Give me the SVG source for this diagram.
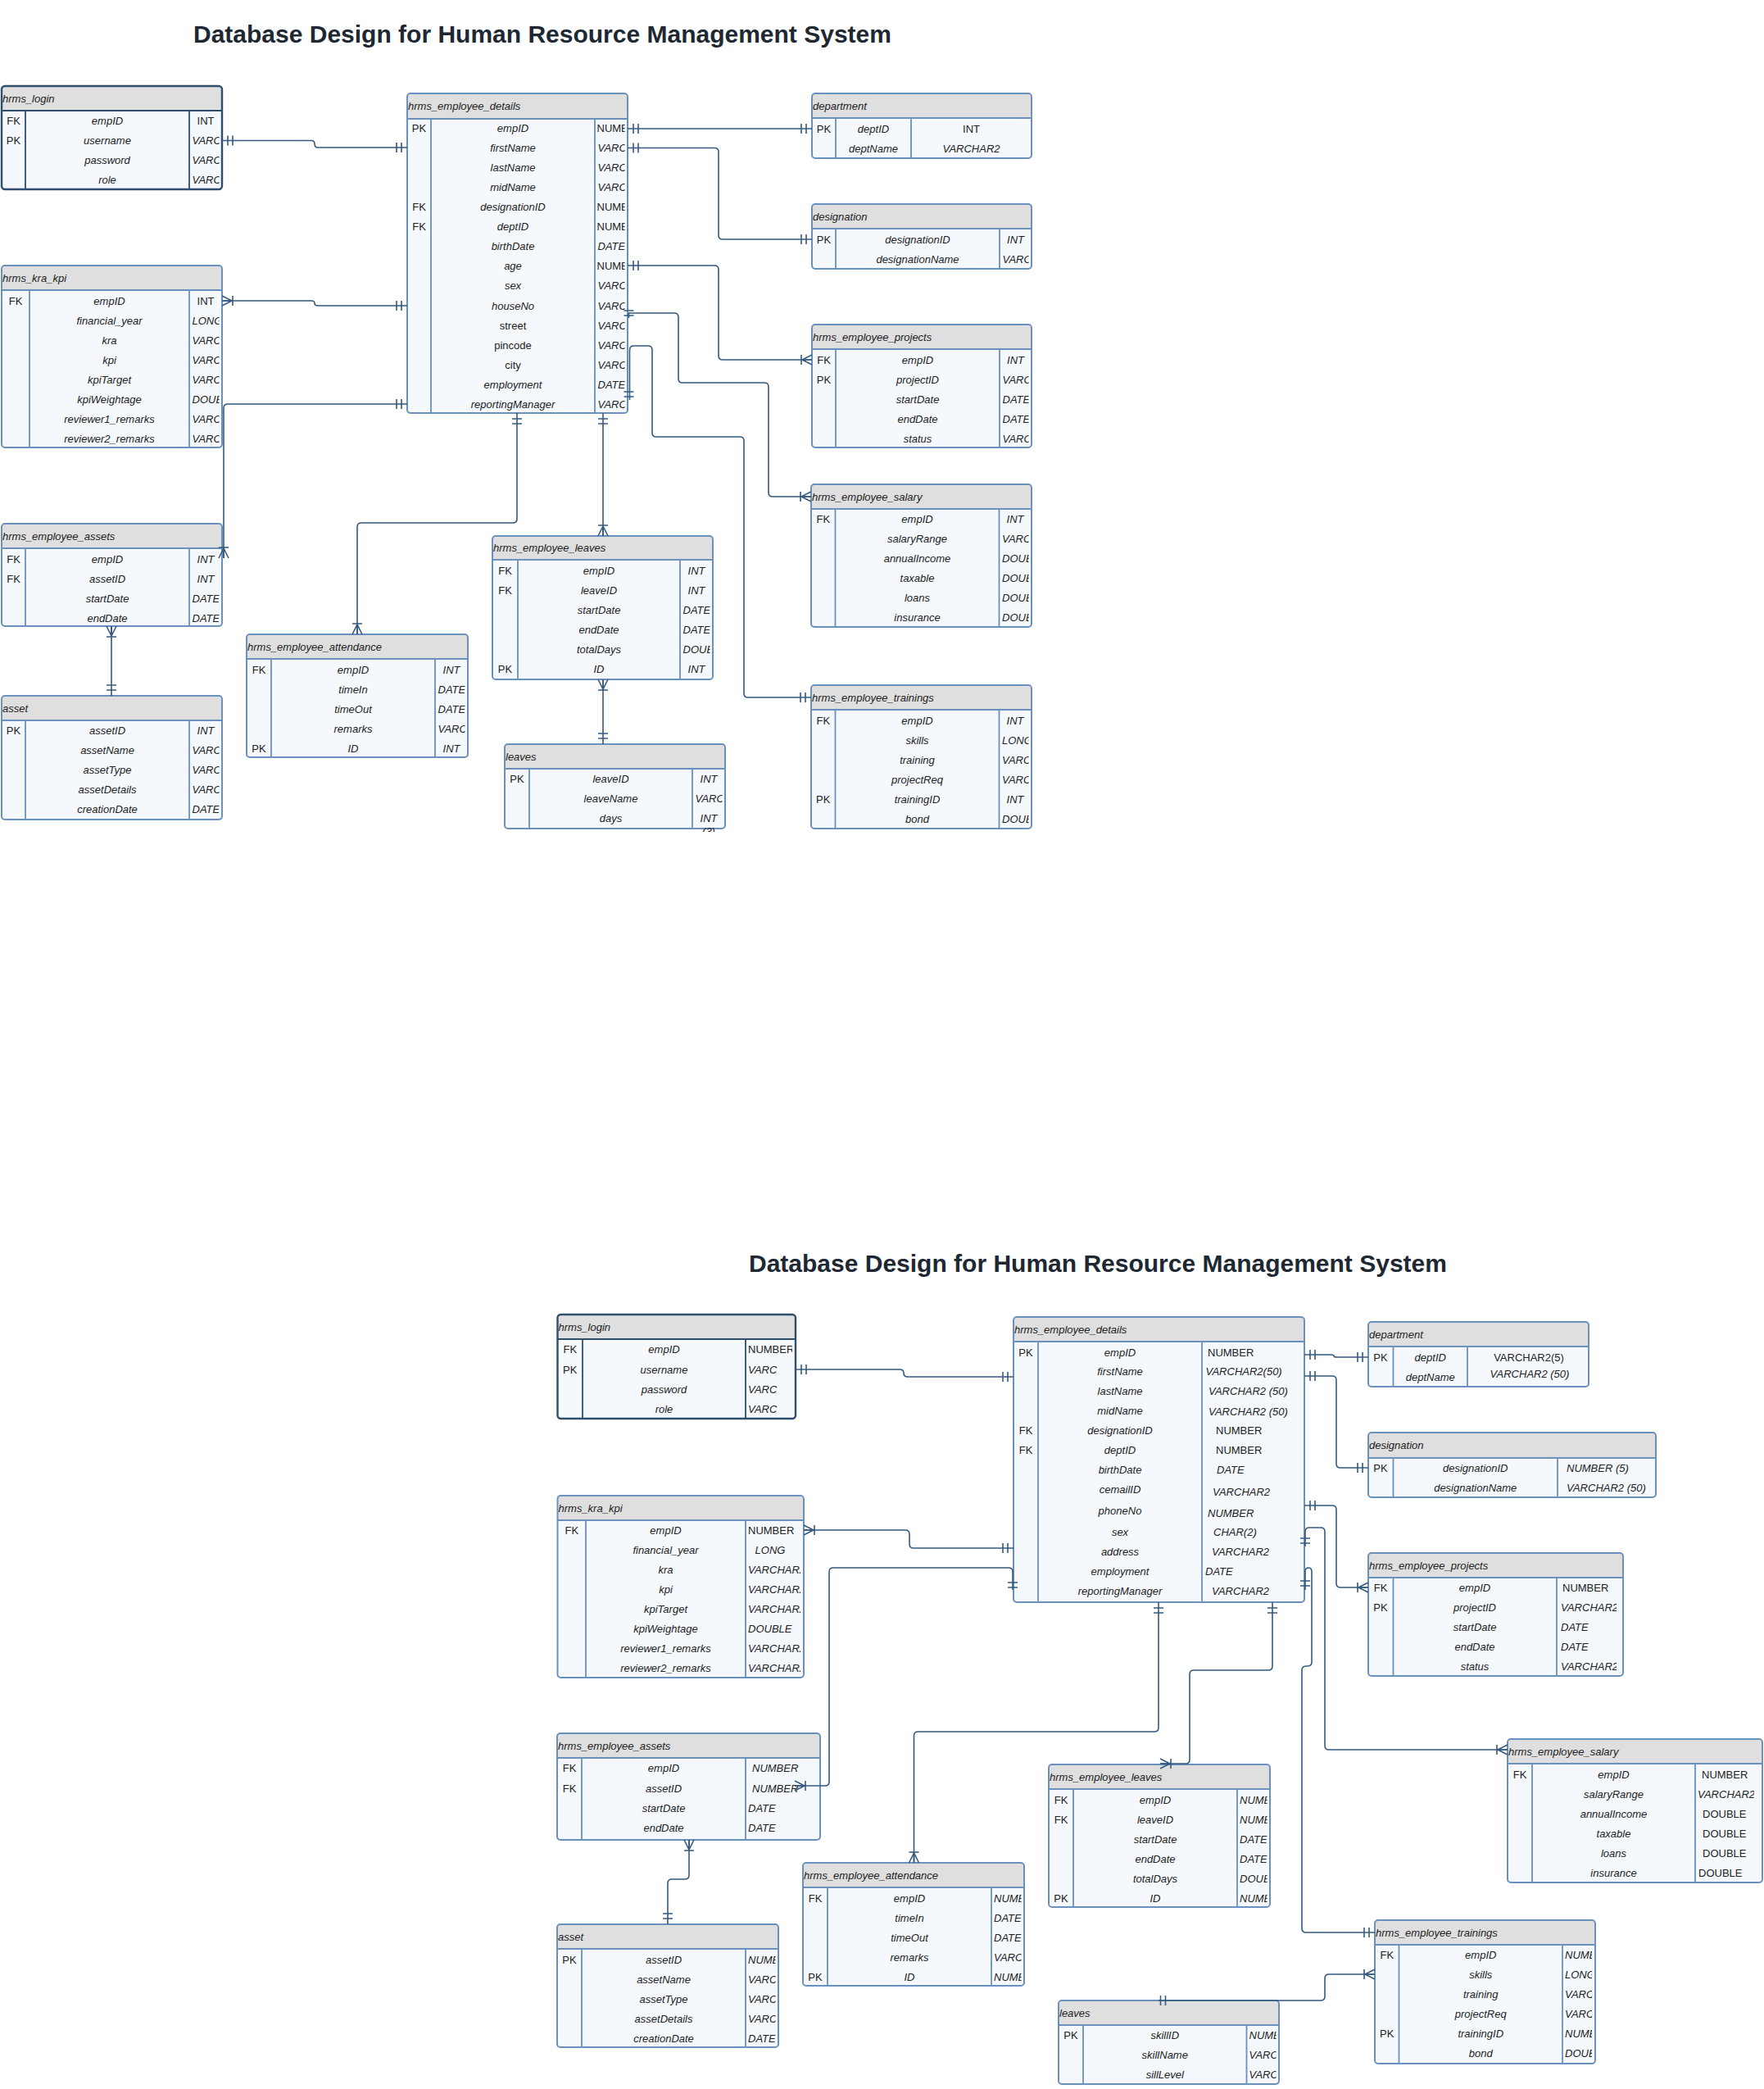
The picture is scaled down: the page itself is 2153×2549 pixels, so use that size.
<svg xmlns="http://www.w3.org/2000/svg" xmlns:xlink="http://www.w3.org/1999/xlink" width="2153" height="2549" viewBox="0 0 2153 2549">
<style>
.bx{fill:#f5f9fd}
.hd{fill:#dfdfdf}
.bo{fill:none;stroke:#6a91be;stroke-width:2}
.dv{fill:none;stroke:#6a91be;stroke-width:1.8}
.dk .bo{stroke:#2f4d6d;stroke-width:2.4}
.dk .dv{stroke:#2f4d6d}
.t{font-family:"Liberation Sans",Arial,Helvetica,sans-serif;font-size:13px;fill:#222}
.i{font-style:italic}
.m{text-anchor:middle}
.ttl{font-family:"Liberation Sans",Arial,Helvetica,sans-serif;font-size:30px;font-weight:bold;fill:#1d2833}
.e{fill:none;stroke:#36597f;stroke-width:1.6}
</style>
<defs>
<g id="one"><path d="M7,-6V6M13,-6V6" fill="none" stroke="#36597f" stroke-width="1.6"/></g>
<g id="many"><path d="M0,-6L12,0L0,6M0,0H12M13,-6V6" fill="none" stroke="#36597f" stroke-width="1.6"/></g>
<clipPath id="cT1"><rect x="231" y="135" width="36.5" height="96"/></clipPath>
<clipPath id="cT2"><rect x="231" y="354" width="36.5" height="192"/></clipPath>
<clipPath id="cT3"><rect x="726" y="145" width="36.5" height="359"/></clipPath>
<clipPath id="cT5"><rect x="1220" y="279" width="35.5" height="49"/></clipPath>
<clipPath id="cT6"><rect x="1220" y="426" width="35.5" height="120"/></clipPath>
<clipPath id="cT7"><rect x="1219.5" y="621" width="36" height="144"/></clipPath>
<clipPath id="cT8"><rect x="1219.5" y="866" width="36" height="145"/></clipPath>
<clipPath id="cT9"><rect x="231" y="669" width="36.5" height="95"/></clipPath>
<clipPath id="cT10"><rect x="231" y="879" width="36.5" height="121"/></clipPath>
<clipPath id="cT11"><rect x="531" y="804" width="36.5" height="120"/></clipPath>
<clipPath id="cT12"><rect x="830" y="683" width="36.5" height="146"/></clipPath>
<clipPath id="cT13"><rect x="845" y="938" width="36.5" height="73"/></clipPath>
<clipPath id="cT13b"><rect x="845" y="1005" width="40" height="10"/></clipPath>
<clipPath id="cB1"><rect x="910" y="1634" width="57" height="97"/></clipPath>
<clipPath id="cB2"><rect x="910" y="1855" width="67" height="192"/></clipPath>
<clipPath id="cB6"><rect x="1900" y="1925" width="73" height="120"/></clipPath>
<clipPath id="cB7"><rect x="2069" y="2152" width="72" height="145"/></clipPath>
<clipPath id="cB8"><rect x="1907" y="2373" width="36" height="145"/></clipPath>
<clipPath id="cB9"><rect x="1510" y="2183" width="36.5" height="144"/></clipPath>
<clipPath id="cB10"><rect x="1521.5" y="2471" width="36" height="72"/></clipPath>
<clipPath id="cB12"><rect x="910" y="2378" width="36.5" height="120"/></clipPath>
<clipPath id="cB13"><rect x="1210" y="2303" width="36.5" height="120"/></clipPath>
</defs>
<rect x="0" y="0" width="2153" height="2549" fill="#ffffff"/>

<text class="ttl" x="236" y="52">Database Design for Human Resource Management System</text>
<text class="ttl" x="914" y="1552">Database Design for Human Resource Management System</text>

<!-- ================= TOP DIAGRAM ================= -->
<g id="top_hrms_login" class="dk">
<rect class="bx" x="2" y="105" width="269" height="126" rx="4"/>
<rect class="hd" x="3" y="106" width="267" height="29" rx="3"/>
<path class="dv" d="M2,135H271M31,135V231M231,135V231"/>
<rect class="bo" x="2" y="105" width="269" height="126" rx="4"/>
<text class="t i" x="3" y="124.5">hrms_login</text>
<text class="t m" x="16.5" y="152">FK</text><text class="t i m" x="131" y="152">empID</text><text class="t m" x="251" y="152">INT</text>
<text class="t m" x="16.5" y="176">PK</text><text class="t i m" x="131" y="176">username</text>
<text class="t i m" x="131" y="200">password</text>
<text class="t i m" x="131" y="224">role</text>
<g clip-path="url(#cT1)"><text class="t i" x="234.5" y="176">VARC</text><text class="t i" x="234.5" y="200">VARC</text><text class="t i" x="234.5" y="224">VARC</text></g>
</g>

<g id="top_hrms_kra_kpi">
<rect class="bx" x="2" y="324" width="269" height="222" rx="4"/>
<rect class="hd" x="3" y="325" width="267" height="29" rx="3"/>
<path class="dv" d="M2,354H271M36,354V546M231,354V546"/>
<rect class="bo" x="2" y="324" width="269" height="222" rx="4"/>
<text class="t i" x="3" y="343.5">hrms_kra_kpi</text>
<text class="t m" x="19" y="371.5">FK</text><text class="t i m" x="133.5" y="371.5">empID</text><text class="t m" x="251" y="371.5">INT</text>
<text class="t i m" x="133.5" y="395.5">financial_year</text>
<text class="t i m" x="133.5" y="419.5">kra</text>
<text class="t i m" x="133.5" y="443.5">kpi</text>
<text class="t i m" x="133.5" y="467.5">kpiTarget</text>
<text class="t i m" x="133.5" y="491.5">kpiWeightage</text>
<text class="t i m" x="133.5" y="515.5">reviewer1_remarks</text>
<text class="t i m" x="133.5" y="539.5">reviewer2_remarks</text>
<g clip-path="url(#cT2)"><text class="t i" x="234.5" y="395.5">LONG</text><text class="t i" x="234.5" y="419.5">VARC</text><text class="t i" x="234.5" y="443.5">VARC</text><text class="t i" x="234.5" y="467.5">VARC</text><text class="t i" x="234.5" y="491.5">DOUB</text><text class="t i" x="234.5" y="515.5">VARC</text><text class="t i" x="234.5" y="539.5">VARC</text></g>
</g>

<g id="top_hrms_employee_details">
<rect class="bx" x="497" y="114" width="269" height="390" rx="4"/>
<rect class="hd" x="498" y="115" width="267" height="30" rx="3"/>
<path class="dv" d="M497,145H766M526,145V504M726,145V504"/>
<rect class="bo" x="497" y="114" width="269" height="390" rx="4"/>
<text class="t i" x="498" y="134">hrms_employee_details</text>
<text class="t m" x="511.5" y="161">PK</text>
<text class="t m" x="511.5" y="257">FK</text>
<text class="t m" x="511.5" y="281">FK</text>
<text class="t i m" x="626" y="161">empID</text>
<text class="t i m" x="626" y="185">firstName</text>
<text class="t i m" x="626" y="209">lastName</text>
<text class="t i m" x="626" y="233">midName</text>
<text class="t i m" x="626" y="257">designationID</text>
<text class="t i m" x="626" y="281">deptID</text>
<text class="t i m" x="626" y="305">birthDate</text>
<text class="t i m" x="626" y="329">age</text>
<text class="t i m" x="626" y="353">sex</text>
<text class="t i m" x="626" y="377.5">houseNo</text>
<text class="t m" x="626" y="401.5">street</text>
<text class="t m" x="626" y="425.5">pincode</text>
<text class="t m" x="626" y="449.5">city</text>
<text class="t i m" x="626" y="473.5">employment</text>
<text class="t i m" x="626" y="497.5">reportingManager</text>
<g clip-path="url(#cT3)">
<text class="t" x="728.5" y="161">NUMB</text>
<text class="t i" x="729.5" y="185">VARC</text>
<text class="t i" x="729.5" y="209">VARC</text>
<text class="t i" x="729.5" y="233">VARC</text>
<text class="t" x="728.5" y="257">NUMB</text>
<text class="t" x="728.5" y="281">NUMB</text>
<text class="t i" x="729.5" y="305">DATE</text>
<text class="t" x="728.5" y="329">NUMB</text>
<text class="t i" x="729.5" y="353">VARC</text>
<text class="t i" x="729.5" y="377.5">VARC</text>
<text class="t i" x="729.5" y="401.5">VARC</text>
<text class="t i" x="729.5" y="425.5">VARC</text>
<text class="t i" x="729.5" y="449.5">VARC</text>
<text class="t i" x="729.5" y="473.5">DATE</text>
<text class="t i" x="729.5" y="497.5">VARC</text>
</g>
</g>

<g id="top_department">
<rect class="bx" x="991" y="114" width="268" height="79" rx="4"/>
<rect class="hd" x="992" y="115" width="266" height="29" rx="3"/>
<path class="dv" d="M991,144H1259M1020,144V193M1112,144V193"/>
<rect class="bo" x="991" y="114" width="268" height="79" rx="4"/>
<text class="t i" x="992" y="133.5">department</text>
<text class="t m" x="1005.5" y="161.5">PK</text><text class="t i m" x="1066" y="161.5">deptID</text><text class="t m" x="1185.5" y="161.5">INT</text>
<text class="t i m" x="1066" y="185.5">deptName</text><text class="t i m" x="1185.5" y="185.5">VARCHAR2</text>
</g>

<g id="top_designation">
<rect class="bx" x="991" y="249" width="268" height="79" rx="4"/>
<rect class="hd" x="992" y="250" width="266" height="29" rx="3"/>
<path class="dv" d="M991,279H1259M1020,279V328M1220,279V328"/>
<rect class="bo" x="991" y="249" width="268" height="79" rx="4"/>
<text class="t i" x="992" y="268.5">designation</text>
<text class="t m" x="1005.5" y="296.5">PK</text><text class="t i m" x="1120" y="296.5">designationID</text><text class="t i m" x="1239.5" y="296.5">INT</text>
<text class="t i m" x="1120" y="320.5">designationName</text>
<g clip-path="url(#cT5)"><text class="t i" x="1223.5" y="320.5">VARC</text></g>
</g>

<g id="top_hrms_employee_projects">
<rect class="bx" x="991" y="396" width="268" height="150" rx="4"/>
<rect class="hd" x="992" y="397" width="266" height="29" rx="3"/>
<path class="dv" d="M991,426H1259M1020,426V546M1220,426V546"/>
<rect class="bo" x="991" y="396" width="268" height="150" rx="4"/>
<text class="t i" x="992" y="415.5">hrms_employee_projects</text>
<text class="t m" x="1005.5" y="443.5">FK</text><text class="t i m" x="1120" y="443.5">empID</text><text class="t i m" x="1239.5" y="443.5">INT</text>
<text class="t m" x="1005.5" y="467.5">PK</text><text class="t i m" x="1120" y="467.5">projectID</text>
<text class="t i m" x="1120" y="491.5">startDate</text>
<text class="t i m" x="1120" y="515.5">endDate</text>
<text class="t i m" x="1120" y="539.5">status</text>
<g clip-path="url(#cT6)"><text class="t i" x="1223.5" y="467.5">VARC</text><text class="t i" x="1223.5" y="491.5">DATE</text><text class="t i" x="1223.5" y="515.5">DATE</text><text class="t i" x="1223.5" y="539.5">VARC</text></g>
</g>

<g id="top_hrms_employee_salary">
<rect class="bx" x="990" y="591" width="269" height="174" rx="4"/>
<rect class="hd" x="991" y="592" width="267" height="29" rx="3"/>
<path class="dv" d="M990,621H1259M1019.5,621V765M1219.5,621V765"/>
<rect class="bo" x="990" y="591" width="269" height="174" rx="4"/>
<text class="t i" x="991" y="610.5">hrms_employee_salary</text>
<text class="t m" x="1004.75" y="637.5">FK</text><text class="t i m" x="1119.5" y="637.5">empID</text><text class="t i m" x="1239" y="637.5">INT</text>
<text class="t i m" x="1119.5" y="661.5">salaryRange</text>
<text class="t i m" x="1119.5" y="685.5">annualIncome</text>
<text class="t i m" x="1119.5" y="709.5">taxable</text>
<text class="t i m" x="1119.5" y="733.5">loans</text>
<text class="t i m" x="1119.5" y="757.5">insurance</text>
<g clip-path="url(#cT7)"><text class="t i" x="1223" y="661.5">VARC</text><text class="t i" x="1223" y="685.5">DOUB</text><text class="t i" x="1223" y="709.5">DOUB</text><text class="t i" x="1223" y="733.5">DOUB</text><text class="t i" x="1223" y="757.5">DOUB</text></g>
</g>

<g id="top_hrms_employee_trainings">
<rect class="bx" x="990" y="836" width="269" height="175" rx="4"/>
<rect class="hd" x="991" y="837" width="267" height="29" rx="3"/>
<path class="dv" d="M990,866H1259M1019.5,866V1011M1219.5,866V1011"/>
<rect class="bo" x="990" y="836" width="269" height="175" rx="4"/>
<text class="t i" x="991" y="855.5">hrms_employee_trainings</text>
<text class="t m" x="1004.75" y="883.5">FK</text><text class="t i m" x="1119.5" y="883.5">empID</text><text class="t i m" x="1239" y="883.5">INT</text>
<text class="t i m" x="1119.5" y="907.5">skills</text>
<text class="t i m" x="1119.5" y="931.5">training</text>
<text class="t i m" x="1119.5" y="955.5">projectReq</text>
<text class="t m" x="1004.75" y="979.5">PK</text><text class="t i m" x="1119.5" y="979.5">trainingID</text><text class="t i m" x="1239" y="979.5">INT</text>
<text class="t i m" x="1119.5" y="1003.5">bond</text>
<g clip-path="url(#cT8)"><text class="t i" x="1223" y="907.5">LONG</text><text class="t i" x="1223" y="931.5">VARC</text><text class="t i" x="1223" y="955.5">VARC</text><text class="t i" x="1223" y="1003.5">DOUB</text></g>
</g>

<g id="top_hrms_employee_assets">
<rect class="bx" x="2" y="639" width="269" height="125" rx="4"/>
<rect class="hd" x="3" y="640" width="267" height="29" rx="3"/>
<path class="dv" d="M2,669H271M31,669V764M231,669V764"/>
<rect class="bo" x="2" y="639" width="269" height="125" rx="4"/>
<text class="t i" x="3" y="658.5">hrms_employee_assets</text>
<text class="t m" x="16.5" y="686.5">FK</text><text class="t i m" x="131" y="686.5">empID</text><text class="t i m" x="251" y="686.5">INT</text>
<text class="t m" x="16.5" y="710.5">FK</text><text class="t i m" x="131" y="710.5">assetID</text><text class="t i m" x="251" y="710.5">INT</text>
<text class="t i m" x="131" y="734.5">startDate</text>
<text class="t i m" x="131" y="758.5">endDate</text>
<g clip-path="url(#cT9)"><text class="t i" x="234.5" y="734.5">DATE</text><text class="t i" x="234.5" y="758.5">DATE</text></g>
</g>

<g id="top_asset">
<rect class="bx" x="2" y="849" width="269" height="151" rx="4"/>
<rect class="hd" x="3" y="850" width="267" height="29" rx="3"/>
<path class="dv" d="M2,879H271M31,879V1000M231,879V1000"/>
<rect class="bo" x="2" y="849" width="269" height="151" rx="4"/>
<text class="t i" x="3" y="868.5">asset</text>
<text class="t m" x="16.5" y="895.5">PK</text><text class="t i m" x="131" y="895.5">assetID</text><text class="t i m" x="251" y="895.5">INT</text>
<text class="t i m" x="131" y="919.5">assetName</text>
<text class="t i m" x="131" y="943.5">assetType</text>
<text class="t i m" x="131" y="967.5">assetDetails</text>
<text class="t i m" x="131" y="991.5">creationDate</text>
<g clip-path="url(#cT10)"><text class="t i" x="234.5" y="919.5">VARC</text><text class="t i" x="234.5" y="943.5">VARC</text><text class="t i" x="234.5" y="967.5">VARC</text><text class="t i" x="234.5" y="991.5">DATE</text></g>
</g>

<g id="top_hrms_employee_attendance">
<rect class="bx" x="301" y="774" width="270" height="150" rx="4"/>
<rect class="hd" x="302" y="775" width="268" height="29" rx="3"/>
<path class="dv" d="M301,804H571M331,804V924M531,804V924"/>
<rect class="bo" x="301" y="774" width="270" height="150" rx="4"/>
<text class="t i" x="302" y="793.5">hrms_employee_attendance</text>
<text class="t m" x="316" y="821.5">FK</text><text class="t i m" x="431" y="821.5">empID</text><text class="t i m" x="551" y="821.5">INT</text>
<text class="t i m" x="431" y="845.5">timeIn</text>
<text class="t i m" x="431" y="869.5">timeOut</text>
<text class="t i m" x="431" y="893.5">remarks</text>
<text class="t m" x="316" y="917.5">PK</text><text class="t i m" x="431" y="917.5">ID</text><text class="t i m" x="551" y="917.5">INT</text>
<g clip-path="url(#cT11)"><text class="t i" x="534.5" y="845.5">DATE</text><text class="t i" x="534.5" y="869.5">DATE</text><text class="t i" x="534.5" y="893.5">VARC</text></g>
</g>

<g id="top_hrms_employee_leaves">
<rect class="bx" x="601" y="654" width="269" height="175" rx="4"/>
<rect class="hd" x="602" y="655" width="267" height="28" rx="3"/>
<path class="dv" d="M601,683H870M632,683V829M830,683V829"/>
<rect class="bo" x="601" y="654" width="269" height="175" rx="4"/>
<text class="t i" x="602" y="673">hrms_employee_leaves</text>
<text class="t m" x="616.5" y="700.5">FK</text><text class="t i m" x="731" y="700.5">empID</text><text class="t i m" x="850" y="700.5">INT</text>
<text class="t m" x="616.5" y="724.5">FK</text><text class="t i m" x="731" y="724.5">leaveID</text><text class="t i m" x="850" y="724.5">INT</text>
<text class="t i m" x="731" y="748.5">startDate</text>
<text class="t i m" x="731" y="772.5">endDate</text>
<text class="t i m" x="731" y="796.5">totalDays</text>
<text class="t m" x="616.5" y="820.5">PK</text><text class="t i m" x="731" y="820.5">ID</text><text class="t i m" x="850" y="820.5">INT</text>
<g clip-path="url(#cT12)"><text class="t i" x="833.5" y="748.5">DATE</text><text class="t i" x="833.5" y="772.5">DATE</text><text class="t i" x="833.5" y="796.5">DOUB</text></g>
</g>

<g id="top_leaves">
<rect class="bx" x="616" y="908" width="269" height="103" rx="4"/>
<rect class="hd" x="617" y="909" width="267" height="29" rx="3"/>
<path class="dv" d="M616,938H885M646,938V1011M845,938V1011"/>
<rect class="bo" x="616" y="908" width="269" height="103" rx="4"/>
<text class="t i" x="617" y="927.5">leaves</text>
<text class="t m" x="631" y="954.5">PK</text><text class="t i m" x="745.5" y="954.5">leaveID</text><text class="t i m" x="865" y="954.5">INT</text>
<text class="t i m" x="745.5" y="978.5">leaveName</text>
<text class="t i m" x="745.5" y="1002.5">days</text><text class="t i m" x="865" y="1002.5">INT</text>
<g clip-path="url(#cT13)"><text class="t i" x="848.5" y="978.5">VARC</text></g>
<g clip-path="url(#cT13b)"><text class="t i m" x="865" y="1019">(3)</text></g>
</g>

<!-- ================= BOTTOM DIAGRAM ================= -->
<g id="bot_hrms_login" class="dk">
<rect class="bx" x="680.5" y="1604" width="290.5" height="127" rx="4"/>
<rect class="hd" x="681.5" y="1605" width="288.5" height="29" rx="3"/>
<path class="dv" d="M680.5,1634H971M711,1634V1731M910,1634V1731"/>
<rect class="bo" x="680.5" y="1604" width="290.5" height="127" rx="4"/>
<text class="t i" x="681.5" y="1623.5">hrms_login</text>
<text class="t m" x="695.75" y="1650.5">FK</text><text class="t i m" x="810.5" y="1650.5">empID</text>
<text class="t m" x="695.75" y="1675.5">PK</text><text class="t i m" x="810.5" y="1675.5">username</text>
<text class="t i m" x="810.5" y="1699.5">password</text>
<text class="t i m" x="810.5" y="1723.5">role</text>
<g clip-path="url(#cB1)"><text class="t" x="913" y="1650.5">NUMBER</text><text class="t i" x="913" y="1675.5">VARC</text><text class="t i" x="913" y="1699.5">VARC</text><text class="t i" x="913" y="1723.5">VARC</text></g>
</g>

<g id="bot_hrms_kra_kpi">
<rect class="bx" x="680.5" y="1825" width="300.5" height="222" rx="4"/>
<rect class="hd" x="681.5" y="1826" width="298.5" height="29" rx="3"/>
<path class="dv" d="M680.5,1855H981M715,1855V2047M910,1855V2047"/>
<rect class="bo" x="680.5" y="1825" width="300.5" height="222" rx="4"/>
<text class="t i" x="681.5" y="1844.5">hrms_kra_kpi</text>
<text class="t m" x="697.75" y="1871.5">FK</text><text class="t i m" x="812.5" y="1871.5">empID</text>
<text class="t i m" x="812.5" y="1895.5">financial_year</text>
<text class="t i m" x="812.5" y="1919.5">kra</text>
<text class="t i m" x="812.5" y="1943.5">kpi</text>
<text class="t i m" x="812.5" y="1967.5">kpiTarget</text>
<text class="t i m" x="812.5" y="1991.5">kpiWeightage</text>
<text class="t i m" x="812.5" y="2015.5">reviewer1_remarks</text>
<text class="t i m" x="812.5" y="2039.5">reviewer2_remarks</text>
<text class="t i m" x="940" y="1895.5">LONG</text>
<g clip-path="url(#cB2)"><text class="t" x="913" y="1871.5">NUMBER</text><text class="t i" x="913" y="1919.5">VARCHAR2</text><text class="t i" x="913" y="1943.5">VARCHAR2</text><text class="t i" x="913" y="1967.5">VARCHAR2</text><text class="t i" x="913" y="1991.5">DOUBLE</text><text class="t i" x="913" y="2015.5">VARCHAR2</text><text class="t i" x="913" y="2039.5">VARCHAR2</text></g>
</g>

<g id="bot_hrms_employee_details">
<rect class="bx" x="1237" y="1607" width="355" height="348" rx="4"/>
<rect class="hd" x="1238" y="1608" width="353" height="29" rx="3"/>
<path class="dv" d="M1237,1637H1592M1267,1637V1955M1467,1637V1955"/>
<rect class="bo" x="1237" y="1607" width="355" height="348" rx="4"/>
<text class="t i" x="1238" y="1626.5">hrms_employee_details</text>
<text class="t m" x="1252" y="1654.5">PK</text>
<text class="t m" x="1252" y="1749.5">FK</text>
<text class="t m" x="1252" y="1773.5">FK</text>
<text class="t i m" x="1367" y="1654.5">empID</text>
<text class="t i m" x="1367" y="1677.5">firstName</text>
<text class="t i m" x="1367" y="1701.5">lastName</text>
<text class="t i m" x="1367" y="1725.5">midName</text>
<text class="t i m" x="1367" y="1749.5">designationID</text>
<text class="t i m" x="1367" y="1773.5">deptID</text>
<text class="t i m" x="1367" y="1797.5">birthDate</text>
<text class="t i m" x="1367" y="1821.5">cemailID</text>
<text class="t i m" x="1367" y="1847.5">phoneNo</text>
<text class="t i m" x="1367" y="1873.5">sex</text>
<text class="t i m" x="1367" y="1897.5">address</text>
<text class="t i m" x="1367" y="1921.5">employment</text>
<text class="t i m" x="1367" y="1945.5">reportingManager</text>
<text class="t" x="1474" y="1654.5">NUMBER</text>
<text class="t i" x="1471.5" y="1677.5">VARCHAR2(50)</text>
<text class="t i" x="1475" y="1701.5">VARCHAR2 (50)</text>
<text class="t i" x="1475" y="1726.5">VARCHAR2 (50)</text>
<text class="t" x="1484" y="1749.5">NUMBER</text>
<text class="t" x="1484" y="1773.5">NUMBER</text>
<text class="t i" x="1485" y="1797.5">DATE</text>
<text class="t i" x="1480" y="1824.5">VARCHAR2</text>
<text class="t i" x="1474" y="1850.5">NUMBER</text>
<text class="t i" x="1481" y="1873.5">CHAR(2)</text>
<text class="t i" x="1479" y="1897.5">VARCHAR2</text>
<text class="t i" x="1471" y="1921.5">DATE</text>
<text class="t i" x="1479" y="1945.5">VARCHAR2</text>
</g>

<g id="bot_department">
<rect class="bx" x="1670" y="1613" width="269" height="79" rx="4"/>
<rect class="hd" x="1671" y="1614" width="267" height="29" rx="3"/>
<path class="dv" d="M1670,1643H1939M1700.5,1643V1692M1791,1643V1692"/>
<rect class="bo" x="1670" y="1613" width="269" height="79" rx="4"/>
<text class="t i" x="1671" y="1632.5">department</text>
<text class="t m" x="1685" y="1660.5">PK</text><text class="t i m" x="1745.75" y="1660.5">deptID</text><text class="t m" x="1866" y="1660.5">VARCHAR2(5)</text>
<text class="t i m" x="1745.75" y="1684.5">deptName</text><text class="t i m" x="1867" y="1680.5">VARCHAR2 (50)</text>
</g>

<g id="bot_designation">
<rect class="bx" x="1670" y="1748" width="351" height="79" rx="4"/>
<rect class="hd" x="1671" y="1749" width="349" height="30" rx="3"/>
<path class="dv" d="M1670,1779H2021M1700.5,1779V1827M1901,1779V1827"/>
<rect class="bo" x="1670" y="1748" width="351" height="79" rx="4"/>
<text class="t i" x="1671" y="1768">designation</text>
<text class="t m" x="1685" y="1795.5">PK</text><text class="t i m" x="1800.75" y="1795.5">designationID</text><text class="t i" x="1912" y="1795.5">NUMBER (5)</text>
<text class="t i m" x="1800.75" y="1819.5">designationName</text><text class="t i" x="1912" y="1819.5">VARCHAR2 (50)</text>
</g>

<g id="bot_hrms_employee_projects">
<rect class="bx" x="1670" y="1895" width="311" height="150" rx="4"/>
<rect class="hd" x="1671" y="1896" width="309" height="29" rx="3"/>
<path class="dv" d="M1670,1925H1981M1700.5,1925V2045M1900,1925V2045"/>
<rect class="bo" x="1670" y="1895" width="311" height="150" rx="4"/>
<text class="t i" x="1671" y="1914.5">hrms_employee_projects</text>
<text class="t m" x="1685" y="1941.5">FK</text><text class="t i m" x="1800" y="1941.5">empID</text>
<text class="t m" x="1685" y="1965.5">PK</text><text class="t i m" x="1800" y="1965.5">projectID</text>
<text class="t i m" x="1800" y="1989.5">startDate</text>
<text class="t i m" x="1800" y="2013.5">endDate</text>
<text class="t i m" x="1800" y="2037.5">status</text>
<g clip-path="url(#cB6)"><text class="t" x="1907" y="1941.5">NUMBER</text><text class="t i" x="1905" y="1965.5">VARCHAR2</text><text class="t i" x="1905" y="1989.5">DATE</text><text class="t i" x="1905" y="2013.5">DATE</text><text class="t i" x="1905" y="2037.5">VARCHAR2</text></g>
</g>

<g id="bot_hrms_employee_salary">
<rect class="bx" x="1840" y="2122" width="311" height="175" rx="4"/>
<rect class="hd" x="1841" y="2123" width="309" height="29" rx="3"/>
<path class="dv" d="M1840,2152H2151M1870,2152V2297M2069,2152V2297"/>
<rect class="bo" x="1840" y="2122" width="311" height="175" rx="4"/>
<text class="t i" x="1841" y="2141.5">hrms_employee_salary</text>
<text class="t m" x="1855" y="2169.5">FK</text><text class="t i m" x="1969.5" y="2169.5">empID</text>
<text class="t i m" x="1969.5" y="2193.5">salaryRange</text>
<text class="t i m" x="1969.5" y="2217.5">annualIncome</text>
<text class="t i m" x="1969.5" y="2241.5">taxable</text>
<text class="t i m" x="1969.5" y="2265.5">loans</text>
<text class="t i m" x="1969.5" y="2289.5">insurance</text>
<g clip-path="url(#cB7)"><text class="t" x="2077" y="2169.5">NUMBER</text><text class="t i" x="2072" y="2193.5">VARCHAR2</text><text class="t" x="2078" y="2217.5">DOUBLE</text><text class="t" x="2078" y="2241.5">DOUBLE</text><text class="t" x="2078" y="2265.5">DOUBLE</text><text class="t" x="2073" y="2289.5">DOUBLE</text></g>
</g>

<g id="bot_hrms_employee_trainings">
<rect class="bx" x="1678" y="2343" width="269" height="175" rx="4"/>
<rect class="hd" x="1679" y="2344" width="267" height="29" rx="3"/>
<path class="dv" d="M1678,2373H1947M1707.5,2373V2518M1907,2373V2518"/>
<rect class="bo" x="1678" y="2343" width="269" height="175" rx="4"/>
<text class="t i" x="1679" y="2362.5">hrms_employee_trainings</text>
<text class="t m" x="1692.75" y="2389.5">FK</text><text class="t i m" x="1807.25" y="2389.5">empID</text>
<text class="t i m" x="1807.25" y="2413.5">skills</text>
<text class="t i m" x="1807.25" y="2437.5">training</text>
<text class="t i m" x="1807.25" y="2461.5">projectReq</text>
<text class="t m" x="1692.75" y="2485.5">PK</text><text class="t i m" x="1807.25" y="2485.5">trainingID</text>
<text class="t i m" x="1807.25" y="2509.5">bond</text>
<g clip-path="url(#cB8)"><text class="t i" x="1910" y="2389.5">NUMB</text><text class="t i" x="1910" y="2413.5">LONG</text><text class="t i" x="1910" y="2437.5">VARC</text><text class="t i" x="1910" y="2461.5">VARC</text><text class="t i" x="1910" y="2485.5">NUMB</text><text class="t i" x="1910" y="2509.5">DOUB</text></g>
</g>

<g id="bot_hrms_employee_leaves">
<rect class="bx" x="1280" y="2153" width="270" height="174" rx="4"/>
<rect class="hd" x="1281" y="2154" width="268" height="29" rx="3"/>
<path class="dv" d="M1280,2183H1550M1310,2183V2327M1510,2183V2327"/>
<rect class="bo" x="1280" y="2153" width="270" height="174" rx="4"/>
<text class="t i" x="1281" y="2172.5">hrms_employee_leaves</text>
<text class="t m" x="1295" y="2200.5">FK</text><text class="t i m" x="1410" y="2200.5">empID</text>
<text class="t m" x="1295" y="2224.5">FK</text><text class="t i m" x="1410" y="2224.5">leaveID</text>
<text class="t i m" x="1410" y="2248.5">startDate</text>
<text class="t i m" x="1410" y="2272.5">endDate</text>
<text class="t i m" x="1410" y="2296.5">totalDays</text>
<text class="t m" x="1295" y="2320.5">PK</text><text class="t i m" x="1410" y="2320.5">ID</text>
<g clip-path="url(#cB9)"><text class="t i" x="1513" y="2200.5">NUMB</text><text class="t i" x="1513" y="2224.5">NUMB</text><text class="t i" x="1513" y="2248.5">DATE</text><text class="t i" x="1513" y="2272.5">DATE</text><text class="t i" x="1513" y="2296.5">DOUB</text><text class="t i" x="1513" y="2320.5">NUMB</text></g>
</g>

<g id="bot_leaves">
<rect class="bx" x="1292" y="2441" width="269" height="102" rx="4"/>
<rect class="hd" x="1293" y="2442" width="267" height="29" rx="3"/>
<path class="dv" d="M1292,2471H1561M1322,2471V2543M1521.5,2471V2543"/>
<rect class="bo" x="1292" y="2441" width="269" height="102" rx="4"/>
<text class="t i" x="1293" y="2460.5">leaves</text>
<text class="t m" x="1307" y="2487.5">PK</text><text class="t i m" x="1421.75" y="2487.5">skillID</text>
<text class="t i m" x="1421.75" y="2511.5">skillName</text>
<text class="t i m" x="1421.75" y="2535.5">sillLevel</text>
<g clip-path="url(#cB10)"><text class="t i" x="1524.5" y="2487.5">NUMB</text><text class="t i" x="1524.5" y="2511.5">VARC</text><text class="t i" x="1524.5" y="2535.5">VARC</text></g>
</g>

<g id="bot_hrms_employee_assets">
<rect class="bx" x="680" y="2115" width="321" height="130" rx="4"/>
<rect class="hd" x="681" y="2116" width="319" height="29" rx="3"/>
<path class="dv" d="M680,2145H1001M710,2145V2245M910,2145V2245"/>
<rect class="bo" x="680" y="2115" width="321" height="130" rx="4"/>
<text class="t i" x="681" y="2134.5">hrms_employee_assets</text>
<text class="t m" x="695" y="2161.5">FK</text><text class="t i m" x="810" y="2161.5">empID</text><text class="t i" x="918" y="2161.5">NUMBER</text>
<text class="t m" x="695" y="2186.5">FK</text><text class="t i m" x="810" y="2186.5">assetID</text><text class="t i" x="918" y="2186.5">NUMBER</text>
<text class="t i m" x="810" y="2210.5">startDate</text><text class="t i" x="913" y="2210.5">DATE</text>
<text class="t i m" x="810" y="2234.5">endDate</text><text class="t i" x="913" y="2234.5">DATE</text>
</g>

<g id="bot_asset">
<rect class="bx" x="680" y="2348" width="270" height="150" rx="4"/>
<rect class="hd" x="681" y="2349" width="268" height="29" rx="3"/>
<path class="dv" d="M680,2378H950M710,2378V2498M910,2378V2498"/>
<rect class="bo" x="680" y="2348" width="270" height="150" rx="4"/>
<text class="t i" x="681" y="2367.5">asset</text>
<text class="t m" x="695" y="2395.5">PK</text><text class="t i m" x="810" y="2395.5">assetID</text>
<text class="t i m" x="810" y="2419.5">assetName</text>
<text class="t i m" x="810" y="2443.5">assetType</text>
<text class="t i m" x="810" y="2467.5">assetDetails</text>
<text class="t i m" x="810" y="2491.5">creationDate</text>
<g clip-path="url(#cB12)"><text class="t i" x="913" y="2395.5">NUMB</text><text class="t i" x="913" y="2419.5">VARC</text><text class="t i" x="913" y="2443.5">VARC</text><text class="t i" x="913" y="2467.5">VARC</text><text class="t i" x="913" y="2491.5">DATE</text></g>
</g>

<g id="bot_hrms_employee_attendance">
<rect class="bx" x="980" y="2273" width="270" height="150" rx="4"/>
<rect class="hd" x="981" y="2274" width="268" height="29" rx="3"/>
<path class="dv" d="M980,2303H1250M1010,2303V2423M1210,2303V2423"/>
<rect class="bo" x="980" y="2273" width="270" height="150" rx="4"/>
<text class="t i" x="981" y="2292.5">hrms_employee_attendance</text>
<text class="t m" x="995" y="2320.5">FK</text><text class="t i m" x="1110" y="2320.5">empID</text>
<text class="t i m" x="1110" y="2344.5">timeIn</text>
<text class="t i m" x="1110" y="2368.5">timeOut</text>
<text class="t i m" x="1110" y="2392.5">remarks</text>
<text class="t m" x="995" y="2416.5">PK</text><text class="t i m" x="1110" y="2416.5">ID</text>
<g clip-path="url(#cB13)"><text class="t i" x="1213" y="2320.5">NUMB</text><text class="t i" x="1213" y="2344.5">DATE</text><text class="t i" x="1213" y="2368.5">DATE</text><text class="t i" x="1213" y="2392.5">VARC</text><text class="t i" x="1213" y="2416.5">NUMB</text></g>
</g>

<!-- ================= CONNECTORS ================= -->
<g id="connectors">
<path class="e" d="M271,171.5H380Q384,171.5 384,175.75Q384,180 388,180H497"/>
<use xlink:href="#one" transform="translate(271,171.5)"/>
<use xlink:href="#one" transform="translate(497,180) rotate(180)"/>

<path class="e" d="M271,367H380Q384,367 384,370Q384,373 388,373H497"/>
<use xlink:href="#many" transform="translate(271,367)"/>
<use xlink:href="#one" transform="translate(497,373) rotate(180)"/>

<path class="e" d="M497,493H278Q273,493 273,498V681"/>
<use xlink:href="#one" transform="translate(497,493) rotate(180)"/>
<use xlink:href="#many" transform="translate(273,681) rotate(-90)"/>

<path class="e" d="M766,157H991"/>
<use xlink:href="#one" transform="translate(766,157)"/>
<use xlink:href="#one" transform="translate(991,157) rotate(180)"/>

<path class="e" d="M766,180.5H872Q877,180.5 877,185.5V287Q877,292 882,292H991"/>
<use xlink:href="#one" transform="translate(766,180.5)"/>
<use xlink:href="#one" transform="translate(991,292) rotate(180)"/>

<path class="e" d="M766,324H872Q877,324 877,329V434Q877,439 882,439H991"/>
<use xlink:href="#one" transform="translate(766,324)"/>
<use xlink:href="#many" transform="translate(991,439) rotate(180)"/>

<path class="e" d="M767.5,388V382H823Q828,382 828,387V462Q828,467 833,467H933Q938,467 938,472V601Q938,606 943,606H990"/>
<use xlink:href="#one" transform="translate(767.5,372) rotate(90)"/>
<use xlink:href="#many" transform="translate(990,606) rotate(180)"/>

<path class="e" d="M768.5,488V427Q768.5,422 773.5,422H791Q796,422 796,427V528Q796,533 801,533H903Q908,533 908,538V846Q908,851 913,851H990"/>
<use xlink:href="#one" transform="translate(767.5,491) rotate(-90)"/>
<use xlink:href="#one" transform="translate(990,851) rotate(180)"/>

<path class="e" d="M631,504V633Q631,638 626,638H441Q436,638 436,643V774"/>
<use xlink:href="#one" transform="translate(631,504) rotate(90)"/>
<use xlink:href="#many" transform="translate(436,774) rotate(-90)"/>

<path class="e" d="M736,504V654"/>
<use xlink:href="#one" transform="translate(736,504) rotate(90)"/>
<use xlink:href="#many" transform="translate(736,654) rotate(-90)"/>

<path class="e" d="M736,829V908"/>
<use xlink:href="#many" transform="translate(736,829) rotate(90)"/>
<use xlink:href="#one" transform="translate(736,908) rotate(-90)"/>

<path class="e" d="M136,764V849"/>
<use xlink:href="#many" transform="translate(136,764) rotate(90)"/>
<use xlink:href="#one" transform="translate(136,849) rotate(-90)"/>

<path class="e" d="M971,1671H1098Q1103,1671 1103,1675.5Q1103,1680 1108,1680H1237"/>
<use xlink:href="#one" transform="translate(971,1671)"/>
<use xlink:href="#one" transform="translate(1237,1680) rotate(180)"/>

<path class="e" d="M981,1867H1105Q1110,1867 1110,1872V1884Q1110,1889 1115,1889H1237"/>
<use xlink:href="#many" transform="translate(981,1867)"/>
<use xlink:href="#one" transform="translate(1237,1889) rotate(180)"/>

<path class="e" d="M1236,1940V1918Q1236,1913 1231,1913H1017Q1012,1913 1012,1918V2174Q1012,2179 1007,2179H970"/>
<use xlink:href="#one" transform="translate(1236,1944) rotate(-90)"/>
<use xlink:href="#many" transform="translate(970,2179)"/>

<path class="e" d="M1592,1653H1624Q1628,1653 1628,1654.5Q1628,1656 1632,1656H1670"/>
<use xlink:href="#one" transform="translate(1592,1653)"/>
<use xlink:href="#one" transform="translate(1670,1656) rotate(180)"/>

<path class="e" d="M1592,1679H1626Q1631,1679 1631,1684V1786Q1631,1791 1636,1791H1670"/>
<use xlink:href="#one" transform="translate(1592,1679)"/>
<use xlink:href="#one" transform="translate(1670,1791) rotate(180)"/>

<path class="e" d="M1592,1837H1626Q1631,1837 1631,1842V1932Q1631,1937 1636,1937H1670"/>
<use xlink:href="#one" transform="translate(1592,1837)"/>
<use xlink:href="#many" transform="translate(1670,1937) rotate(180)"/>

<path class="e" d="M1593,1887V1869Q1593,1864 1598,1864H1612Q1617,1864 1617,1869V2130Q1617,2135 1622,2135H1840"/>
<use xlink:href="#one" transform="translate(1593,1890) rotate(-90)"/>
<use xlink:href="#many" transform="translate(1840,2135) rotate(180)"/>

<path class="e" d="M1593,1940V1918Q1593,1913 1597,1913Q1601,1913 1601,1918V2028Q1601,2033 1596,2033H1594Q1589,2033 1589,2038V2353Q1589,2358 1594,2358H1678"/>
<use xlink:href="#one" transform="translate(1593,1942) rotate(-90)"/>
<use xlink:href="#one" transform="translate(1678,2358) rotate(180)"/>

<path class="e" d="M1414,1955V2108Q1414,2113 1409,2113H1120.5Q1115.5,2113 1115.5,2118V2273"/>
<use xlink:href="#one" transform="translate(1414,1955) rotate(90)"/>
<use xlink:href="#many" transform="translate(1115.5,2273) rotate(-90)"/>

<path class="e" d="M1553,1955V2033Q1553,2038 1548,2038H1457Q1452,2038 1452,2043V2147Q1452,2152 1447,2152H1416"/>
<use xlink:href="#one" transform="translate(1553,1955) rotate(90)"/>
<use xlink:href="#many" transform="translate(1416,2152)"/>

<path class="e" d="M1414,2441H1612Q1617,2441 1617,2436V2414Q1617,2409 1622,2409H1678"/>
<use xlink:href="#one" transform="translate(1409.5,2441)"/>
<use xlink:href="#many" transform="translate(1678,2409) rotate(180)"/>

<path class="e" d="M841,2245V2288Q841,2293 836,2293H820Q815,2293 815,2298V2348"/>
<use xlink:href="#many" transform="translate(841,2245) rotate(90)"/>
<use xlink:href="#one" transform="translate(815,2348) rotate(-90)"/>
</g>
</svg>
